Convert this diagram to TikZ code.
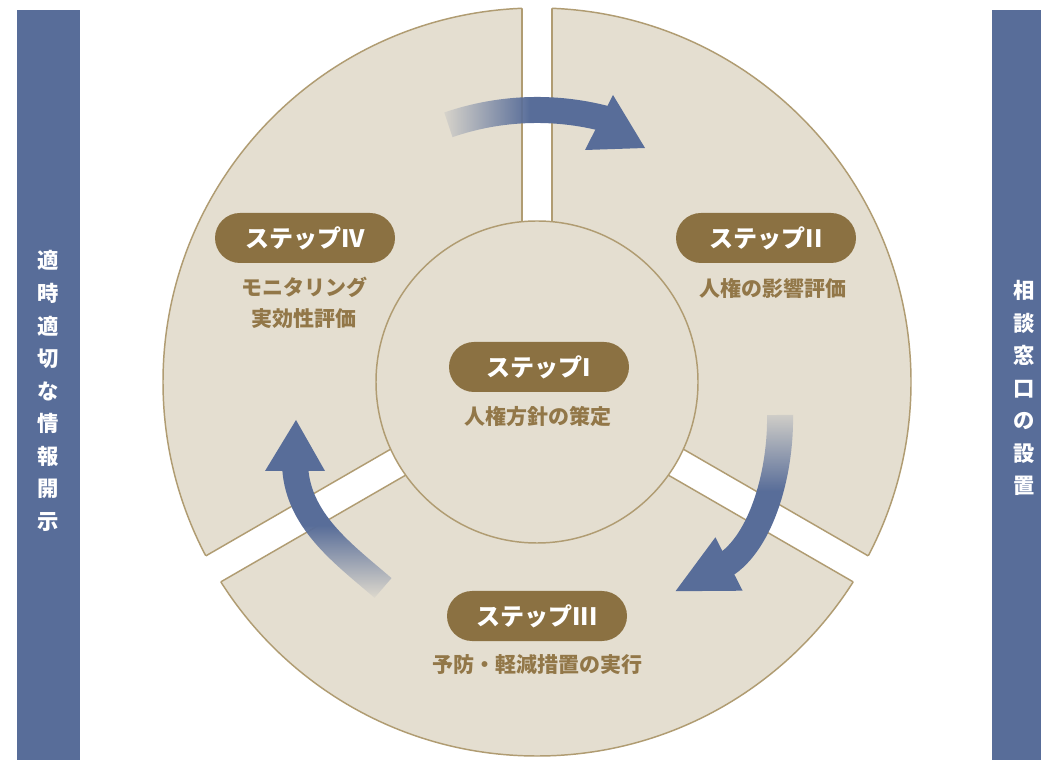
\documentclass[tikz,border=0pt]{standalone}
\usepackage{fontspec}
\newfontfamily\jp{Noto Sans CJK JP}
\usetikzlibrary{fadings}
\definecolor{beige}{RGB}{228,222,208}
\definecolor{edgec}{RGB}{176,156,114}
\definecolor{pillc}{RGB}{139,113,66}
\definecolor{subc}{RGB}{146,119,72}
\definecolor{navy}{RGB}{88,109,153}
\tikzfading[name=fadeleft, left color=transparent!100, right color=transparent!0, middle color=transparent!0]
\tikzfading[name=fadetop, top color=transparent!100, bottom color=transparent!0, middle color=transparent!0]
\tikzfading[name=fadebottom, bottom color=transparent!100, top color=transparent!0, middle color=transparent!0]
\begin{document}
\begin{tikzpicture}[x=0.75pt,y=0.75pt,
  pill/.style={fill=pillc, rounded corners=18.75pt, minimum width=135pt, minimum height=37.5pt, text=white, font=\jp\bfseries\fontsize{18pt}{20pt}\selectfont, inner sep=0pt},
  sub/.style={text=subc, font=\jp\bfseries\fontsize{15.75pt}{23.25pt}\selectfont, align=center, inner sep=0pt},
  side/.style={text=white, font=\jp\bfseries\fontsize{16pt}{24.4pt}\selectfont, align=center, inner sep=0pt},
  seg/.style={draw=edgec, line width=1.1pt},
  arrowbody/.style={draw=navy, line width=19.5pt},
  arrowhead/.style={fill=navy}]
\useasboundingbox (0,0) rectangle (1041,760);
\fill[white] (0,0) rectangle (1041,760);
% side bars
\fill[navy] (17,0) rectangle (80,750);
\fill[navy] (992,0) rectangle (1041,750);
% outer disc
\coordinate (C) at (537,378);
\fill[beige] (C) circle (374);
\draw[seg] (C) circle (374);
\foreach \a in {90,210,330} {
  \begin{scope}[shift={(537,378)}, rotate=\a]
    \fill[white] (0,-15) rectangle (400,15);
    \begin{scope}
      \clip (0,0) circle (374);
      \draw[seg] (0,15) -- (400,15) (0,-15) -- (400,-15);
    \end{scope}
  \end{scope}
}
% inner circle
\fill[beige] (C) circle (161);
\draw[seg] (C) circle (161);
% arrows
\draw[arrowbody, path fading=fadeleft] (448.4,635.2) arc[start angle=109, end angle=74, radius=272];
\fill[arrowhead] (613,665) -- (645,612) -- (585,610) -- cycle;
\draw[arrowbody, path fading=fadetop] (780,345) .. controls (781,285) and (760,212.4) .. (720,192);
\fill[arrowhead] (715.4,222.7) -- (742.6,169.3) -- (675.5,168.8) -- cycle;
\draw[arrowbody, path fading=fadebottom] (383,172) .. controls (345,205) and (295,240) .. (295,298);
\fill[arrowhead] (265,289) -- (325,289) -- (296,340) -- cycle;
% pills and texts
\node[pill] (p1) at (539,393) {ステップI};
\node[sub] (t1) at (538,343) {人権方針の策定};
\node[pill] (p2) at (766,522) {ステップII};
\node[sub] (t2) at (773,472) {人権の影響評価};
\node[pill] (p3) at (537,144) {ステップIII};
\node[sub] (t3) at (537,95) {予防・軽減措置の実行};
\node[pill] (p4) at (305,522) {ステップIV};
\node[sub] (t4) at (304,457) {モニタリング\\実効性評価};
% side texts
\node[side] (L) at (48.5,369) {適\\時\\適\\切\\な\\情\\報\\開\\示};
\node[side] (R) at (1024,372) {相\\談\\窓\\口\\の\\設\\置};
\end{tikzpicture}
\end{document}
